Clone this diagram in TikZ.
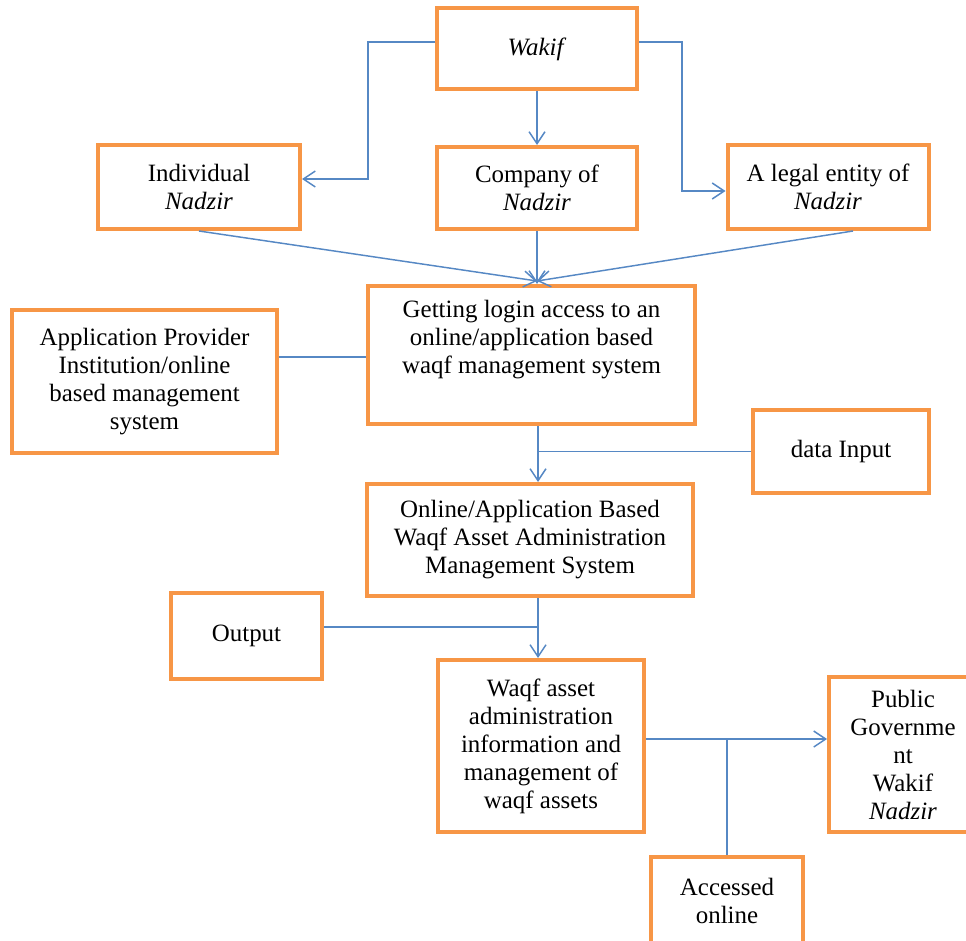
\documentclass[tikz,border=0pt]{standalone}
\usepackage{fontspec}
\setmainfont{Liberation Serif}
\usetikzlibrary{arrows.meta,calc}
\definecolor{boxorange}{RGB}{247,150,70}
\definecolor{lineblue}{RGB}{86,136,196}
\tikzset{
  box/.style={draw=boxorange, line width=3pt, fill=white, inner sep=0pt, align=center,
              font=\fontsize{18.7}{21}\selectfont},
  txt/.style={inner sep=0pt, align=center, font=\fontsize{18.7}{21}\selectfont},
  conn/.style={draw=lineblue, line width=1.1pt},
  arr/.style={conn, -{Straight Barb[length=9pt,width=12pt,line width=1.1pt]}},
}
\begin{document}
\begin{tikzpicture}[x=0.75pt,y=-0.75pt]
\useasboundingbox (0,0) rectangle (966,941);
\clip (0,0) rectangle (966,941);
% boxes
\node[box, minimum width=150pt, minimum height=60.75pt] (wakif) at (537,49) {\textit{Wakif}};
\node[box, minimum width=151.5pt, minimum height=63pt] (indiv) at (199,187) {Individual\\\textit{Nadzir}};
\node[box, minimum width=150pt, minimum height=61.5pt] (company) at (537,188) {Company of\\\textit{Nadzir}};
\node[box, minimum width=150.75pt, minimum height=63pt] (legal) at (828,187) {A legal entity of\\\textit{Nadzir}};
\node[box, minimum width=245.25pt, minimum height=103.5pt] (login) at (531.5,355) {};
\node[txt] (logintxt) at (531.5,340) {Getting login access to an\\online/application based\\waqf management system};
\node[box, minimum width=198.75pt, minimum height=107.25pt] (appprov) at (144.5,381.5) {Application Provider\\Institution/online\\based management\\system};
\node[box, minimum width=132pt, minimum height=62.25pt] (data) at (841,451.5) {data Input};
\node[box, minimum width=244.5pt, minimum height=84pt] (online) at (530,540) {Online/Application Based\\Waqf Asset Administration\\Management System};
\node[box, minimum width=113.25pt, minimum height=64.5pt] (output) at (246.5,636) {Output};
\node[box, minimum width=154.5pt, minimum height=129pt] (waqf) at (541,746) {Waqf asset\\administration\\information and\\management of\\waqf assets};
\node[box, minimum width=111pt, minimum height=116.25pt] (public) at (903,754.5) {Public\\Governme\\nt\\Wakif\\\textit{Nadzir}};
\node[box, minimum width=114pt, minimum height=66pt] (accessed) at (727,901) {Accessed\\online};
% helper coordinates
\coordinate (wk) at (368,42);
\coordinate (lk) at (368,179);
\coordinate (rk) at (682,42);
\coordinate (rk2) at (682,191);
\coordinate (conv) at (537,281);
\coordinate (ap) at (0,357);
\coordinate (vx) at (538,0);
\coordinate (op) at (0,627);
\coordinate (wp) at (0,739);
% connectors
\draw[arr] (wakif.west |- wk) -- (wk) -- (lk) -- (indiv.east |- lk);
\draw[arr] (wakif.east |- rk) -- (rk) -- (rk2) -- (legal.west |- rk2);
\draw[arr] (wakif.south) -- (company.north);
\draw[arr] (indiv.south) -- (conv);
\draw[arr] ($(legal.south)+(25,0)$) -- (conv);
\draw[arr] (company.south) -- (company.south |- login.north);
\draw[conn] (appprov.east |- ap) -- (login.west |- ap);
\draw[arr] (login.south -| vx) -- (online.north -| vx);
\draw[conn] (data.west) -- (data.west -| vx);
\draw[arr] (online.south -| vx) -- (waqf.north -| vx);
\draw[conn] (output.east |- op) -- (vx |- op);
\draw[arr] (waqf.east |- wp) -- (public.west |- wp);
\draw[conn] (accessed.north) -- (accessed.north |- wp);
\end{tikzpicture}
\end{document}
